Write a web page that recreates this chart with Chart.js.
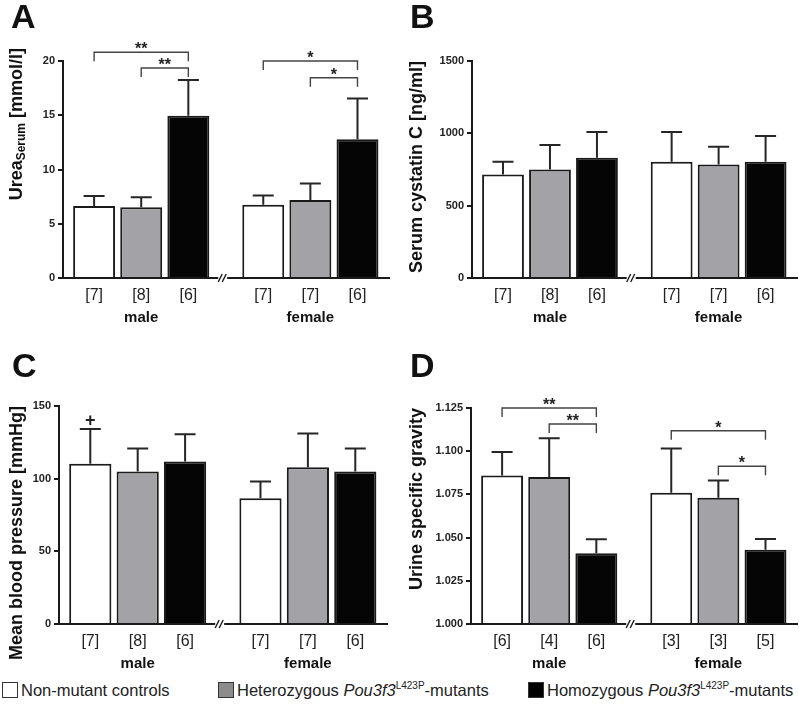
<!DOCTYPE html>
<html>
<head>
<meta charset="utf-8">
<script src="https://cdn.jsdelivr.net/npm/chart.js@4.4.0/dist/chart.umd.min.js"></script>
<style>
  body { margin: 0; background: #fff; }
  #fig { position: relative; width: 799px; height: 712px; overflow: hidden; background: #fff;
         font-family: "Liberation Sans", Arial, sans-serif; }
  #fig canvas { position: absolute; }
  .letter { position: absolute; font-weight: bold; font-size: 34px; line-height: 34px; color: #111; }
  .leg { position: absolute; top: 680px; font-size: 16.5px; line-height: 20px; color: #222; white-space: nowrap; }
  .leg .box { display: inline-block; width: 14px; height: 14px; border: 1px solid #333; vertical-align: -2px; margin-right: 3px; }
  .leg sup { font-size: 10px; line-height: 0; vertical-align: 7px; }
</style>
</head>
<body>
<div id="fig">
  <canvas id="chartA" width="400" height="330" style="left:0;top:0"></canvas>
  <canvas id="chartB" width="399" height="330" style="left:400px;top:0"></canvas>
  <canvas id="chartC" width="400" height="350" style="left:0;top:330px"></canvas>
  <canvas id="chartD" width="399" height="350" style="left:400px;top:330px"></canvas>

  <div class="letter" style="left:11px;top:-1px">A</div>
  <div class="letter" style="left:410px;top:-1px">B</div>
  <div class="letter" style="left:12px;top:348px">C</div>
  <div class="letter" style="left:410px;top:348px">D</div>

  <div class="leg" style="left:2px"><span class="box" style="background:#fff"></span>Non-mutant controls</div>
  <div class="leg" style="left:218px"><span class="box" style="background:#8c8c8c"></span>Heterozygous <i>Pou3f3</i><sup>L423P</sup>-mutants</div>
  <div class="leg" style="left:528px"><span class="box" style="background:#000"></span>Homozygous <i>Pou3f3</i><sup>L423P</sup>-mutants</div>
</div>

<script>
// bar order in every panel: male (control, het, hom), female (control, het, hom)
const groups = ['male', 'female'];
const genotypes = ['Non-mutant controls', 'Heterozygous Pou3f3 L423P-mutants', 'Homozygous Pou3f3 L423P-mutants'];

const ureaMean = [6.64, 6.51, 14.96, 6.75, 7.20, 12.78];
const ureaSD   = [0.92, 0.93, 3.29, 0.85, 1.50, 3.77];
const ureaN    = ['[7]', '[8]', '[6]', '[7]', '[7]', '[6]'];
const ureaTicks = [0, 5, 10, 15, 20];
const ureaSig  = [[0, 2, 20.8, '**'], [1, 2, 19.35, '**'], [3, 5, 20.0, '*'], [4, 5, 18.45, '*']];

const cystMean = [715, 750, 831, 803, 785, 803];
const cystSD   = [88, 169, 178, 206, 122, 178];
const cystN    = ['[7]', '[8]', '[6]', '[7]', '[7]', '[6]'];
const cystTicks = [0, 500, 1000, 1500];

const bpMean = [110.2, 104.9, 111.8, 86.6, 107.9, 104.9];
const bpSD   = [24.0, 15.8, 18.7, 11.4, 23.1, 15.8];
const bpN    = ['[7]', '[8]', '[6]', '[7]', '[7]', '[6]'];
const bpTicks = [0, 50, 100, 150];
const bpMarks = [[0, '+']];

const usgMean = [1.086, 1.085, 1.041, 1.076, 1.073, 1.043];
const usgSD   = [0.0135, 0.0225, 0.0080, 0.0255, 0.0100, 0.0062];
const usgN    = ['[6]', '[4]', '[6]', '[3]', '[3]', '[5]'];
const usgTicks = [1.000, 1.025, 1.050, 1.075, 1.100, 1.125];
const usgSig  = [[0, 2, 1.125, '**'], [1, 2, 1.1157, '**'], [3, 5, 1.1118, '*'], [4, 5, 1.0913, '*']];

const FONT = '"Liberation Sans", Arial, sans-serif';
const FILLS = ['#ffffff', '#a3a3a7', '#050505'];
const GAP = 3.59;        // x offset of the female group
const XMIN = -0.66, XMAX = 6.28, BREAK_AT = 2.74;

function pos(k) { return Math.floor(k / 3) * GAP + (k % 3); }

function drawRichTitle(ctx, parts, cx, topY) {
  ctx.save();
  ctx.textAlign = 'left';
  ctx.textBaseline = 'middle';
  ctx.fillStyle = '#111';
  let total = 0;
  parts.forEach(pt => {
    ctx.font = 'bold ' + pt.size + 'px ' + FONT;
    pt.w = ctx.measureText(pt.t).width;
    total += pt.w;
  });
  ctx.translate(cx, topY + total);
  ctx.rotate(-Math.PI / 2);
  let xx = 0;
  parts.forEach(pt => {
    ctx.font = 'bold ' + pt.size + 'px ' + FONT;
    ctx.fillText(pt.t, xx, pt.dy);
    xx += pt.w;
  });
  ctx.restore();
}

function panelPlugin(p) {
  return {
    id: 'panel_' + p.id,
    afterDatasetsDraw(chart) {
      const ctx = chart.ctx;
      const xs = chart.scales.x, ys = chart.scales.y;
      const area = chart.chartArea;
      ctx.save();

      // error bars (upper SD only)
      ctx.strokeStyle = '#262626';
      ctx.lineWidth = 2;
      chart.data.datasets.forEach((ds, di) => {
        chart.getDatasetMeta(di).data.forEach((bar, j) => {
          const k = j * 3 + di;
          const top = ys.getPixelForValue(p.mean[k] + p.sd[k]);
          ctx.beginPath();
          ctx.moveTo(bar.x, bar.y);
          ctx.lineTo(bar.x, top);
          ctx.moveTo(bar.x - 10.5, top);
          ctx.lineTo(bar.x + 10.5, top);
          ctx.stroke();
        });
      });

      // x axis line with break
      const y0 = ys.getPixelForValue(ys.min);
      const bx = xs.getPixelForValue(BREAK_AT);
      ctx.strokeStyle = '#1a1a1a';
      ctx.lineWidth = 2;
      ctx.beginPath();
      ctx.moveTo(area.left, y0); ctx.lineTo(bx - 5, y0);
      ctx.moveTo(bx + 4, y0); ctx.lineTo(area.right, y0);
      ctx.stroke();
      ctx.lineWidth = 1.4;
      ctx.beginPath();
      ctx.moveTo(bx - 5, y0 + 4); ctx.lineTo(bx - 1, y0 - 4);
      ctx.moveTo(bx - 1, y0 + 4); ctx.lineTo(bx + 3, y0 - 4);
      ctx.stroke();

      // significance brackets
      ctx.strokeStyle = '#444';
      ctx.lineWidth = 1.4;
      ctx.fillStyle = '#222';
      ctx.font = 'bold 16px ' + FONT;
      ctx.textAlign = 'center';
      ctx.textBaseline = 'alphabetic';
      (p.sig || []).forEach(([a, b, lvl, lab]) => {
        const x1 = xs.getPixelForValue(pos(a)), x2 = xs.getPixelForValue(pos(b));
        const yy = ys.getPixelForValue(lvl);
        ctx.beginPath();
        ctx.moveTo(x1, yy + 9); ctx.lineTo(x1, yy); ctx.lineTo(x2, yy); ctx.lineTo(x2, yy + 9);
        ctx.stroke();
        ctx.fillText(lab, (x1 + x2) / 2, yy + 2);
      });

      // marks above error bars
      ctx.font = 'bold 18px ' + FONT;
      ctx.textBaseline = 'middle';
      (p.marks || []).forEach(([k, lab]) => {
        const xx = xs.getPixelForValue(pos(k));
        const yy = ys.getPixelForValue(p.mean[k] + p.sd[k]);
        ctx.fillText(lab, xx, yy - 8);
      });
      ctx.restore();

      if (p.rich) drawRichTitle(ctx, p.rich, 17, 48);
    }
  };
}

function makePanel(p) {
  const positions = p.mean.map((v, k) => pos(k));
  new Chart(document.getElementById(p.id), {
    type: 'bar',
    data: {
      datasets: genotypes.map((g, gi) => ({
        label: g,
        data: groups.map((grp, j) => ({ x: pos(j * 3 + gi), y: p.mean[j * 3 + gi] })),
        backgroundColor: FILLS[gi],
        borderColor: '#1a1a1a',
        borderWidth: 2,
        borderSkipped: 'start',
        barPercentage: 0.89,
        categoryPercentage: 1,
        grouped: false,
        base: p.ticks[0]
      }))
    },
    options: {
      responsive: false,
      animation: false,
      devicePixelRatio: 1,
      layout: { padding: p.pad },
      plugins: { legend: { display: false }, tooltip: { enabled: false } },
      scales: {
        x: {
          type: 'linear', min: XMIN, max: XMAX, offset: false,
          afterBuildTicks: s => { s.ticks = positions.map(v => ({ value: v })); },
          afterFit: s => { s.height = 28; },
          grid: { display: false, drawTicks: false, offset: false },
          border: { display: false },
          ticks: {
            autoSkip: false, maxRotation: 0, padding: 8, color: '#222',
            font: { family: FONT, size: 16 },
            callback: (v, i) => p.n[i]
          }
        },
        x2: {
          type: 'linear', position: 'bottom', weight: 1, min: XMIN, max: XMAX, offset: false,
          afterBuildTicks: s => { s.ticks = [1, 1 + GAP].map(v => ({ value: v })); },
          afterFit: s => { s.height = 24; },
          grid: { display: false, drawTicks: false, offset: false },
          border: { display: false },
          ticks: {
            autoSkip: false, maxRotation: 0, padding: 3, color: '#111',
            font: { family: FONT, size: 15, weight: 'bold' },
            callback: (v, i) => groups[i]
          }
        },
        y: {
          min: p.ticks[0], max: p.ticks[p.ticks.length - 1],
          afterBuildTicks: s => { s.ticks = p.ticks.map(v => ({ value: v })); },
          afterFit: s => { s.width = p.left; },
          border: { color: '#1a1a1a', width: 2 },
          grid: { drawOnChartArea: false, drawTicks: true, tickLength: 5, color: '#1a1a1a', lineWidth: 2 },
          ticks: {
            padding: 3, color: '#222',
            font: { family: FONT, size: 11, weight: 'bold' },
            callback: v => p.decimals ? v.toFixed(p.decimals) : String(v)
          },
          title: p.title ? {
            display: true, text: p.title, align: 'end', color: '#111',
            font: { family: FONT, size: 18, weight: 'bold' },
            padding: { top: 6, bottom: 0 }
          } : { display: false }
        }
      }
    },
    plugins: [panelPlugin(p)]
  });
}

makePanel({ id: 'chartA', mean: ureaMean, sd: ureaSD, n: ureaN, ticks: ureaTicks, sig: ureaSig,
  left: 63, pad: { top: 61, right: 10, bottom: 0, left: 0 },
  rich: [{ t: 'Urea', size: 18, dy: 0 }, { t: 'Serum', size: 12, dy: 5 }, { t: ' [mmol/l]', size: 18, dy: 0 }] });
makePanel({ id: 'chartB', mean: cystMean, sd: cystSD, n: cystN, ticks: cystTicks,
  left: 72, pad: { top: 61, right: 1, bottom: 0, left: 0 }, title: 'Serum cystatin C [ng/ml]' });
makePanel({ id: 'chartC', mean: bpMean, sd: bpSD, n: bpN, ticks: bpTicks, marks: bpMarks,
  left: 59, pad: { top: 76, right: 12, bottom: 4, left: 0 }, title: 'Mean blood pressure [mmHg]' });
makePanel({ id: 'chartD', mean: usgMean, sd: usgSD, n: usgN, ticks: usgTicks, sig: usgSig, decimals: 3,
  left: 71, pad: { top: 78, right: 1, bottom: 4, left: 0 }, title: 'Urine specific gravity' });
</script>
</body>
</html>
